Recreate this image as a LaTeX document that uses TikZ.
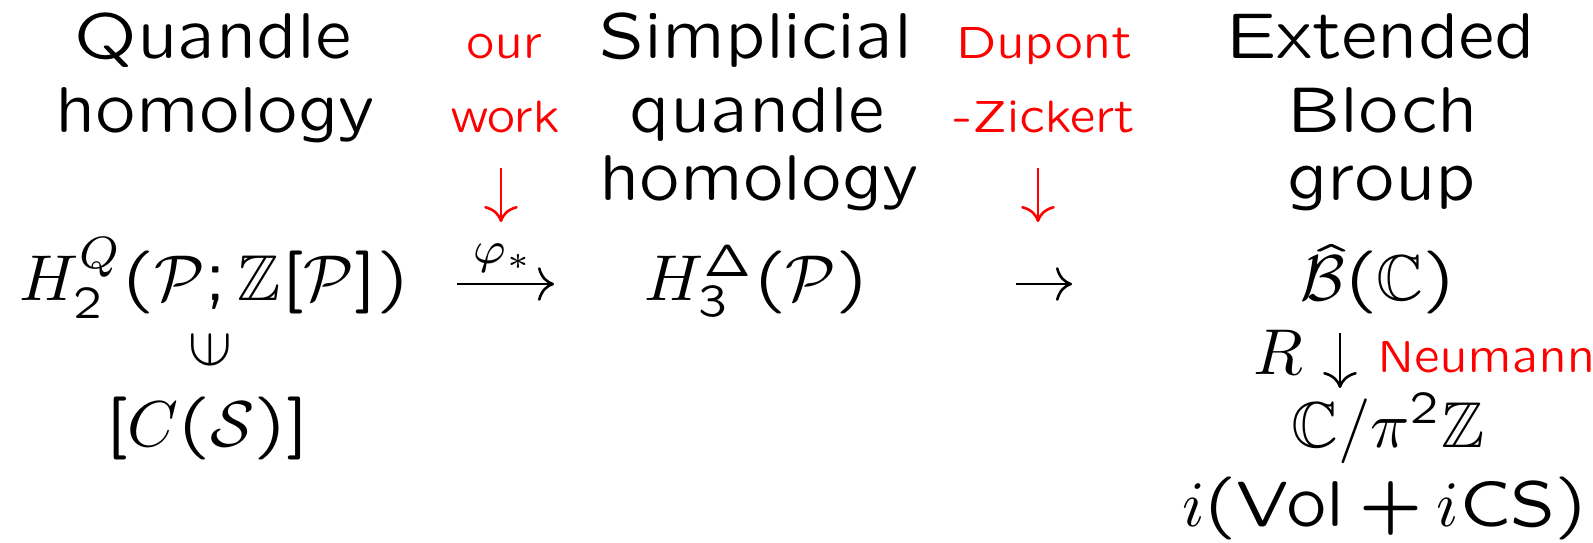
\documentclass[tikz,border=0pt]{standalone}
\usepackage{amssymb}
\usepackage{graphicx}
\usetikzlibrary{arrows.meta}
\DeclareFontFamily{OT1}{myssq}{}
\DeclareFontShape{OT1}{myssq}{m}{n}{<-> cmssq8}{}
\DeclareFontShape{OT1}{myssq}{bx}{n}{<-> cmssqi8}{}
\DeclareSymbolFont{operators}{OT1}{myssq}{m}{n}
\SetSymbolFont{operators}{bold}{OT1}{myssq}{m}{n}
\newcommand\qsfont{\fontencoding{OT1}\fontfamily{myssq}\fontseries{m}\fontshape{n}\selectfont}
\definecolor{alertred}{RGB}{255,0,0}
\tikzset{
  txt/.style={anchor=base, inner sep=0pt, font={\qsfont\fontsize{10}{12}\selectfont}},
  rtxt/.style={anchor=base, inner sep=0pt, text=alertred, font={\qsfont\fontsize{7}{8}\selectfont}},
  mth/.style={anchor=base, inner sep=0pt},
  arr/.style={line width=0.4pt, -{Computer Modern Rightarrow}},
  rarr/.style={arr, draw=alertred},
}
\begin{document}
\begin{tikzpicture}[x=0.1543pt, y=-0.1543pt]
\useasboundingbox (0,0) rectangle (1593,542);
% column 1
\node[txt] (q1) at (213,58) {Quandle};
\node[txt] (q2) at (215,132) {homology};
\node[mth] (h2) at (214,300) {$H_2^Q(\mathcal{P};\mathbb{Z}[\mathcal{P}])$};
\node[inner sep=0pt] (in) at (210,350) {\rotatebox[origin=c]{90}{$\in$}};
\node[mth] (cs) at (207,446) {$[C(\mathcal{S})]$};
% our work
\node[rtxt] (o1) at (504,58) {our};
\node[rtxt] (o2) at (505,132) {work};
\coordinate (oa) at (501,168);
\coordinate (ob) at (501,222);
\draw[rarr] (oa) -- (ob);
\coordinate (p1) at (457,284);
\coordinate (p2) at (554,284);
\draw[arr] (p1) -- (p2);
\node[mth] (phi) at (503,263) {$\scriptstyle\varphi_*$};
% simplicial
\node[txt] (s1) at (756,58) {Simplicial};
\node[txt] (s2) at (757,132) {quandle};
\node[txt] (s3) at (759,200) {homology};
\node[mth] (h3) at (756,300) {$H_3^{\Delta}(\mathcal{P})$};
% Dupont-Zickert
\node[rtxt] (d1) at (1044,58) {Dupont};
\node[rtxt] (d2) at (1044,132) {-Zickert};
\coordinate (da) at (1038,168);
\coordinate (db) at (1038,222);
\draw[rarr] (da) -- (db);
\coordinate (t1) at (1016,284);
\coordinate (t2) at (1072,284);
\draw[arr] (t1) -- (t2);
% extended Bloch group
\node[txt] (e1) at (1381,58) {Extended};
\node[txt] (e2) at (1383,132) {Bloch};
\node[txt] (e3) at (1382,200) {group};
\node[mth] (bc) at (1378,300) {$\hat{\mathcal{B}}(\mathbb{C})$};
\node[mth, anchor=base east] (R) at (1305,374) {$R$};
\coordinate (ra) at (1340,333);
\coordinate (rb) at (1340,388);
\draw[arr] (ra) -- (rb);
\node[rtxt, anchor=base west] (nm) at (1376,372) {Neumann};
\node[mth] (cp) at (1388,447) {$\mathbb{C}/\pi^2\mathbb{Z}$};
\node[mth] (vol) at (1385,526) {$i(\mathrm{Vol}+i\mathrm{CS})$};
\end{tikzpicture}
\end{document}
